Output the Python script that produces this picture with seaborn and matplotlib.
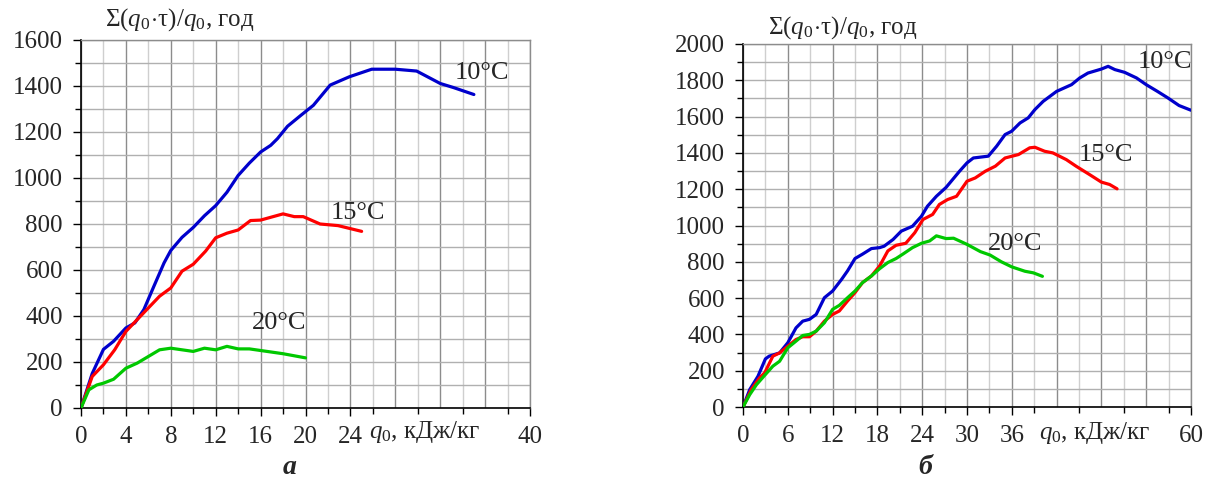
import matplotlib
matplotlib.use("Agg")
import matplotlib.pyplot as plt
import numpy as np
import pandas as pd
import seaborn as sns

# panel "а": q0 (kJ/kg) vs sum(q0*tau)/q0 (hours)
x_blue_a = [0, 1, 2, 2.9, 4, 4.8, 5.6, 6.5, 7.4, 8, 9, 10, 11, 12, 13, 14, 15, 16, 16.9, 17.5,
            18.4, 19.6, 20.7, 22.2, 23.9, 25.9, 28, 29.9, 32, 33.2, 35]
y_blue_a = [0, 150, 255, 290, 348, 370, 428, 530, 631, 685, 742, 785, 836, 880, 938, 1011, 1065,
            1113, 1142, 1171, 1225, 1273, 1316, 1404, 1440, 1473, 1473, 1465, 1411, 1393, 1363]
x_red_a = [0, 1, 2, 3, 4, 5, 6, 7, 8, 9, 10, 11.1, 12, 13, 14, 15.1, 16, 18, 19, 19.8, 21.3, 22.9, 25]
y_red_a = [0, 137, 188, 253, 333, 384, 435, 486, 522, 595, 625, 682, 740, 760, 774, 815, 817, 844,
           832, 832, 800, 793, 768]
x_green_a = [0, 0.7, 1.4, 2, 2.9, 4, 5, 6, 7, 8, 9, 10, 11, 12, 13, 14, 15, 16, 18, 20]
y_green_a = [0, 79, 100, 108, 125, 173, 195, 224, 253, 260, 253, 246, 260, 253, 268, 257, 257, 250, 236, 218]

# panel "б"
x_blue_b = [0, 0.9, 2, 3, 3.5, 4.9, 6, 7.1, 8, 8.9, 9.8, 10.9, 12, 13.2, 14, 15, 16, 17.2, 18.3,
            18.9, 20.1, 21.2, 22.7, 23.9, 24.7, 25.9, 27.2, 29, 30, 30.85, 32.85, 33.97, 35.1, 35.97,
            37.1, 38.2, 39.1, 40.2, 42, 44, 45.1, 46.2, 48, 48.9, 49.8, 51.1, 52.7, 54, 55.5, 56.9,
            58.4, 60]
y_blue_b = [0, 96, 169, 265, 280, 298, 354, 436, 473, 483, 510, 602, 639, 703, 750, 818, 842, 873,
            878, 886, 923, 969, 996, 1051, 1106, 1161, 1210, 1299, 1345, 1372, 1382, 1437, 1501, 1519,
            1565, 1593, 1639, 1684, 1739, 1776, 1813, 1840, 1862, 1877, 1859, 1844, 1813, 1776, 1739,
            1703, 1661, 1635]
x_red_b = [0, 1.1, 2.2, 2.9, 4, 4.9, 6, 7.1, 8, 8.9, 9.8, 10.9, 12, 12.9, 14, 15, 16, 17.2, 18.3,
           19.4, 20.5, 21.8, 23, 24.1, 25.4, 26.3, 27.4, 28.6, 30, 31.1, 32.45, 33.8, 35.1, 36.9,
           38.4, 39.1, 40.4, 41.5, 43.3, 44.6, 46.4, 48, 49.1, 50.1]
y_red_b = [0, 96, 160, 188, 280, 298, 335, 372, 387, 387, 418, 473, 510, 529, 584, 630, 685, 722,
           777, 860, 891, 902, 960, 1033, 1061, 1116, 1143, 1161, 1244, 1262, 1299, 1327, 1372, 1391,
           1428, 1431, 1409, 1400, 1363, 1327, 1281, 1239, 1226, 1202]
x_green_b = [0, 0.9, 1.8, 3, 4, 4.9, 6, 7.1, 8, 8.9, 9.8, 10.9, 12, 12.9, 14, 15, 16, 17.2, 18.3,
             19.4, 20.5, 21.4, 22.7, 23.9, 25, 25.9, 27.2, 28.2, 30, 31.8, 33.1, 34.6, 36, 37.75,
             38.9, 40.1]
y_green_b = [0, 68, 123, 179, 225, 252, 326, 363, 394, 400, 418, 464, 538, 560, 602, 639, 685, 722,
             762, 796, 818, 842, 878, 902, 915, 943, 928, 930, 896, 856, 837, 800, 772, 748, 739, 720]

temps = ["10°C", "15°C", "20°C"]
colors = ["#0000cc", "#ff0000", "#00c800"]

sns.set_style("white")
plt.rcParams['font.family'] = ['Liberation Serif', 'DejaVu Serif']
plt.rcParams['mathtext.fontset'] = 'custom'
plt.rcParams['mathtext.rm'] = 'Liberation Serif'
plt.rcParams['mathtext.it'] = 'Liberation Serif:italic'
plt.rcParams['mathtext.bf'] = 'Liberation Serif:bold'

W, H = 1213, 484
fig = plt.figure(figsize=(W / 100, H / 100), dpi=100)
ax_a = fig.add_axes([81 / W, 1 - 408 / H, 449 / W, 368 / H])
ax_b = fig.add_axes([743 / W, 1 - 407 / H, 448 / W, 363 / H])


def draw(ax, series):
    for (xs, ys), t, c in zip(series, temps, colors):
        df = pd.DataFrame({"q0": xs, "val": ys})
        sns.lineplot(data=df, x="q0", y="val", ax=ax, color=c, lw=2.3, sort=False,
                     estimator=None, solid_joinstyle="round", solid_capstyle="round", zorder=5)
    ax.set_xlabel("")
    ax.set_ylabel("")


def style(ax, xmax, xstep, ymax, hidden):
    ax.set_xlim(0, xmax)
    ax.set_ylim(0, ymax)
    majors = np.arange(0, xmax + 0.1, 2 * xstep)
    ax.set_xticks(majors)
    ax.set_xticklabels(["" if m in hidden else f"{m:g}" for m in majors])
    ax.set_xticks(np.arange(xstep, xmax, 2 * xstep), minor=True)
    ax.set_yticks(np.arange(0, ymax + 1, 200))
    ax.set_yticks(np.arange(100, ymax, 200), minor=True)
    ax.tick_params(which="major", direction="out", length=6, width=1, labelsize=18, pad=7,
                   bottom=True, left=True, color="black")
    ax.tick_params(which="minor", direction="out", length=4, width=1, bottom=True, left=True,
                   color="black")
    ax.grid(True, which="major", axis="x", color="#8c8c8c", lw=1.0)
    ax.grid(True, which="minor", axis="x", color="#cfcfcf", lw=1.0)
    ax.grid(True, which="both", axis="y", color="#b0b0b0", lw=1.0)
    for t in ax.xaxis.get_major_ticks() + ax.xaxis.get_minor_ticks():
        loc = t.get_loc()
        if hidden[0] - xstep - 0.01 < loc < xmax - xstep - 0.01:
            t.tick1line.set_visible(False)
    for s in ["left", "bottom"]:
        ax.spines[s].set_color("black")
        ax.spines[s].set_linewidth(1.2)
    for s in ["top", "right"]:
        ax.spines[s].set_color("#8c8c8c")
        ax.spines[s].set_linewidth(1.0)


draw(ax_a, [(x_blue_a, y_blue_a), (x_red_a, y_red_a), (x_green_a, y_green_a)])
draw(ax_b, [(x_blue_b, y_blue_b), (x_red_b, y_red_b), (x_green_b, y_green_b)])
style(ax_a, 40, 2, 1600, [28, 32, 36])
style(ax_b, 60, 3, 2000, [42, 48, 54])

ann = dict(fontsize=19, ha="left", va="center", zorder=6)
ax_a.text(33.3, 1456, temps[0], **ann)
ax_a.text(22.2, 848, temps[1], **ann)
ax_a.text(15.2, 370, temps[2], **ann)
ax_b.text(52.8, 1902, temps[0], **ann)
ax_b.text(44.9, 1390, temps[1], **ann)
ax_b.text(32.8, 900, temps[2], **ann)

ylab = r"$\Sigma(q_0\!\cdot\!\mathrm{\tau})/q_0$, год"
fig.text(105 / W, 1 - 20 / H, ylab, fontsize=18, ha="left", va="center")
fig.text(768 / W, 1 - 28 / H, ylab, fontsize=18, ha="left", va="center")
xlab = r"$q_0$, кДж/кг"
fig.text(425 / W, 1 - 432 / H, xlab, fontsize=18, ha="center", va="center")
fig.text(1095 / W, 1 - 433 / H, xlab, fontsize=18, ha="center", va="center")
fig.text(290 / W, 1 - 468 / H, "а", fontsize=20, fontweight="bold", fontstyle="italic",
         ha="center", va="center")
fig.text(925 / W, 1 - 468 / H, "б", fontsize=20, fontweight="bold", fontstyle="italic",
         ha="center", va="center")

fig.savefig("out.png", dpi=100, facecolor="white")
